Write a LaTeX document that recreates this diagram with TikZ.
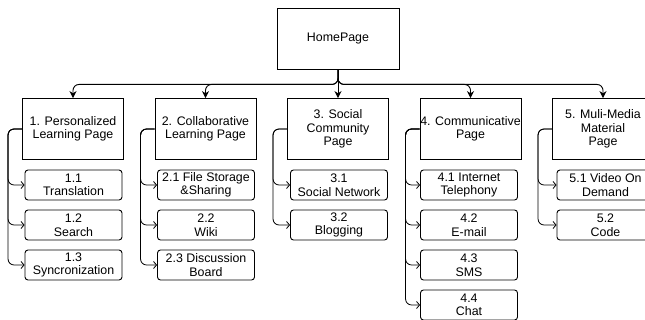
\documentclass[tikz,border=0pt]{standalone}
\usepackage{fontspec}
\setmainfont{Liberation Sans}
\usetikzlibrary{arrows.meta}
\begin{document}
\begin{tikzpicture}[x=1pt, y=-1pt,
        font=\fontsize{12.4}{13.5}\selectfont,
        page/.style={draw, line width=0.9pt, minimum width=101pt, minimum height=61pt, inner sep=0pt, align=center},
        subpage/.style={draw, rounded corners=3pt, line width=0.9pt, minimum width=97pt, minimum height=30pt, inner sep=0pt, align=center},
        toplink/.style={line width=0.9pt, rounded corners=6pt, -{Stealth[length=7pt,width=7pt]}},
        sublink/.style={line width=0.8pt, rounded corners=6pt, -{Straight Barb[length=3pt,width=7pt]}}]
        \useasboundingbox (0,0) rectangle (645,320);

        % Home page
        \node[page, minimum width=122pt] (home) at (338,38.5) {HomePage};

        % Main pages
        \node[page] (p1) at (73,129) {1. Personalized\\Learning Page};
        \node[page] (p2) at (205.5,129) {2. Collaborative\\Learning Page};
        \node[page] (p3) at (338,129) {3. Social\\Community\\Page};
        \node[page] (p4) at (470.5,129) {4. Communicative\\Page};
        \node[page] (p5) at (603,129) {5. Muli-Media\\Material\\Page};

        % Links from home page
        \draw[toplink] (home.south) -- ++(0,15) -| (p1.north);
        \draw[toplink] (home.south) -- ++(0,15) -| (p2.north);
        \draw[toplink] (home.south) -- (p3.north);
        \draw[toplink] (home.south) -- ++(0,15) -| (p4.north);
        \draw[toplink] (home.south) -- ++(0,15) -| (p5.north);

        % Sub pages
        \node[subpage] (c11) at (73.5,185) {1.1\\Translation};
        \node[subpage] (c12) at (73.5,225) {1.2\\Search};
        \node[subpage] (c13) at (73.5,265) {1.3\\Syncronization};

        \node[subpage] (c21) at (206,185) {2.1 File Storage\\\&Sharing};
        \node[subpage] (c22) at (206,225) {2.2\\Wiki};
        \node[subpage] (c23) at (206,265) {2.3 Discussion\\Board};

        \node[subpage] (c31) at (339,185) {3.1\\Social Network};
        \node[subpage] (c32) at (339,225) {3.2\\Blogging};

        \node[subpage] (c41) at (469,185) {4.1 Internet\\Telephony};
        \node[subpage] (c42) at (469,225) {4.2\\E-mail};
        \node[subpage] (c43) at (469,265) {4.3\\SMS};
        \node[subpage] (c44) at (469,305) {4.4\\Chat};

        \node[subpage] (c51) at (605.5,185) {5.1 Video On\\Demand};
        \node[subpage] (c52) at (605.5,225) {5.2\\Code};

        % Links to sub pages
        \draw[sublink] (p1.west) -- ++(-14,0) |- (c11.west);
        \draw[sublink] (p1.west) -- ++(-14,0) |- (c12.west);
        \draw[sublink] (p1.west) -- ++(-14,0) |- (c13.west);

        \draw[sublink] (p2.west) -- ++(-14,0) |- (c21.west);
        \draw[sublink] (p2.west) -- ++(-14,0) |- (c22.west);
        \draw[sublink] (p2.west) -- ++(-14,0) |- (c23.west);

        \draw[sublink] (p3.west) -- ++(-14,0) |- (c31.west);
        \draw[sublink] (p3.west) -- ++(-14,0) |- (c32.west);

        \draw[sublink] (p4.west) -- ++(-14,0) |- (c41.west);
        \draw[sublink] (p4.west) -- ++(-14,0) |- (c42.west);
        \draw[sublink] (p4.west) -- ++(-14,0) |- (c43.west);
        \draw[sublink] (p4.west) -- ++(-14,0) |- (c44.west);

        \draw[sublink] (p5.west) -- ++(-14,0) |- (c51.west);
        \draw[sublink] (p5.west) -- ++(-14,0) |- (c52.west);
\end{tikzpicture}
\end{document}
